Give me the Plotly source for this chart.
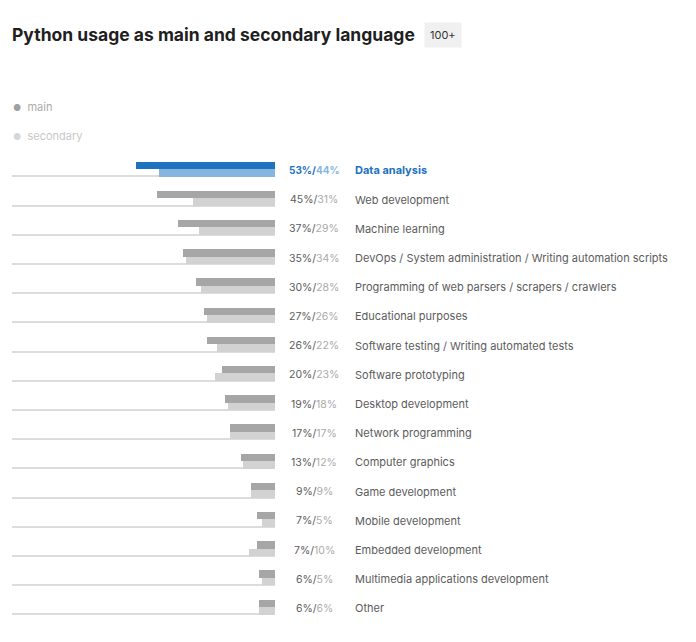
import plotly.graph_objects as go

# Python usage as main / secondary language, share of respondents (%)
categories = [
    "Data analysis",
    "Web development",
    "Machine learning",
    "DevOps / System administration / Writing automation scripts",
    "Programming of web parsers / scrapers / crawlers",
    "Educational purposes",
    "Software testing / Writing automated tests",
    "Software prototyping",
    "Desktop development",
    "Network programming",
    "Computer graphics",
    "Game development",
    "Mobile development",
    "Embedded development",
    "Multimedia applications development",
    "Other",
]
main_share = [53, 45, 37, 35, 30, 27, 26, 20, 19, 17, 13, 9, 7, 7, 6, 6]
secondary_share = [44, 31, 29, 34, 28, 26, 22, 23, 18, 17, 12, 9, 5, 10, 5, 6]
highlight = "Data analysis"

W, H = 696, 642
FONT = "Inter"

# colours
GREY_MAIN = "#a6a6a6"
GREY_SEC = "#d2d2d2"
BLUE_MAIN = "#1f72bf"
BLUE_SEC = "#86b5e0"
LINE = "#dcdcdc"

rows = list(range(len(categories)))
bar_w = 0.257  # one bar is ~7.5px of a 29.2px row

main_colors = [BLUE_MAIN if c == highlight else GREY_MAIN for c in categories]
sec_colors = [BLUE_SEC if c == highlight else GREY_SEC for c in categories]

fig = go.Figure()

# thin base line under each row (full 100% scale)
fig.add_trace(go.Bar(
    y=rows, x=[100] * len(rows), orientation="h",
    offset=bar_w - 0.02, width=0.04,
    marker=dict(color=LINE, line=dict(width=0)),
    hoverinfo="skip", showlegend=False,
))
fig.add_trace(go.Bar(
    y=rows, x=main_share, orientation="h", name="main",
    offset=-bar_w, width=bar_w,
    marker=dict(color=main_colors, line=dict(width=0)),
    showlegend=False,
))
fig.add_trace(go.Bar(
    y=rows, x=secondary_share, orientation="h", name="secondary",
    offset=0, width=bar_w,
    marker=dict(color=sec_colors, line=dict(width=0)),
    showlegend=False,
))

annotations = []
for i, cat in enumerate(categories):
    hl = cat == highlight
    m_col = BLUE_MAIN if hl else "#5c5c5c"
    s_col = BLUE_SEC if hl else "#ababab"
    pct = f"<span style='color:{m_col}'>{main_share[i]}%/</span><span style='color:{s_col}'>{secondary_share[i]}%</span>"
    label = cat
    if hl:
        pct = "<b>" + pct + "</b>"
        label = "<b>" + cat + "</b>"
    annotations.append(dict(
        x=314 / W, xref="paper", y=i + 0.05, yref="y",
        text=pct, showarrow=False, xanchor="center", yanchor="middle",
        font=dict(family=FONT, size=10 if hl else 10.5, color=m_col),
    ))
    annotations.append(dict(
        x=353 / W, xref="paper", y=i + 0.05, yref="y",
        text=label, showarrow=False, xanchor="left", yanchor="middle",
        font=dict(family=FONT, size=11, color=BLUE_MAIN if hl else "#5c5c5c"),
    ))

# title + badge
annotations.append(dict(
    x=10 / W, xref="paper", y=1 - 35 / H, yref="paper",
    text="<b>Python usage as main and secondary language</b>",
    showarrow=False, xanchor="left", yanchor="middle",
    font=dict(family=FONT, size=17.5, color="#1f1f1f"),
))
annotations.append(dict(
    x=443 / W, xref="paper", y=1 - 35 / H, yref="paper",
    text="100+", showarrow=False, xanchor="center", yanchor="middle",
    font=dict(family=FONT, size=11, color="#333333"),
    bgcolor="#f0f0f0", borderpad=5,
))

# legend (greyed out, as in the source)
for label, ypx, dot, txt in [("main", 107, "#a0a0a0", "#ababab"),
                              ("secondary", 136, "#d6d6d6", "#c8c8c8")]:
    annotations.append(dict(
        x=11 / W, xref="paper", y=1 - ypx / H, yref="paper",
        text=f"<span style='color:{dot}; font-size:9px'>●</span>  {label}",
        showarrow=False, xanchor="left", yanchor="middle",
        font=dict(family=FONT, size=11, color=txt),
    ))

px_per_row = 29.2
y_top = -169 / px_per_row
y_bottom = y_top + H / px_per_row

fig.update_layout(
    width=W, height=H,
    margin=dict(l=0, r=0, t=0, b=0),
    paper_bgcolor="white", plot_bgcolor="white",
    barmode="overlay", bargap=0,
    annotations=annotations,
    xaxis=dict(range=[100, 0], domain=[12 / W, 275 / W], visible=False, fixedrange=True),
    yaxis=dict(range=[y_bottom, y_top], domain=[0, 1], visible=False, fixedrange=True),
    font=dict(family=FONT),
)

fig.write_html("out.html", config={"displayModeBar": False},
               post_script="document.body.style.margin='0';")
